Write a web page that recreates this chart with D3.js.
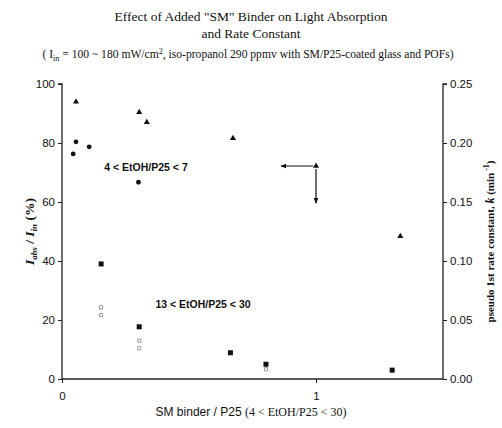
<!DOCTYPE html>
<html><head><meta charset="utf-8">
<script src="https://cdn.jsdelivr.net/npm/d3@7"></script>
<style>body{margin:0;background:#fff}</style>
</head><body>
<svg id="c" width="502" height="428"></svg>
<script>
// data
const circleX = [0.044, 0.055, 0.107, 0.301];
const circleY = [76.3, 80.4, 78.7, 66.7];            // Iabs/Iin %
const squareX = [0.154, 0.304, 0.663, 0.803, 1.30];
const squareY = [39.0, 17.7, 8.9, 5.0, 3.0];         // Iabs/Iin %
const openSqX = [0.154, 0.154, 0.304, 0.304, 0.803];
const openSqY = [24.3, 21.7, 13.0, 10.4, 3.3];       // Iabs/Iin %
const triX = [0.055, 0.304, 0.334, 0.673, 1.0, 1.332];
const triK = [0.235, 0.226, 0.2175, 0.204, 0.1805, 0.121]; // k (1/min)
const leftTicks = [0, 20, 40, 60, 80, 100];
const rightTicks = [0, 0.05, 0.10, 0.15, 0.20, 0.25];
const xTicks = [0, 1];

const svg = d3.select("#c");
const L = 62, R = 443, T = 84, B = 379;
const x = d3.scaleLinear().domain([0, 1.5]).range([L, R]);
const yL = d3.scaleLinear().domain([0, 100]).range([B, T]);
const yR = d3.scaleLinear().domain([0, 0.25]).range([B, T]);

const serif = "'Liberation Serif', 'Times New Roman', serif";
const sans = "'Liberation Sans', Arial, sans-serif";

// titles
const tg = svg.append("g").attr("font-family", serif).attr("fill", "#111").attr("text-anchor", "middle");
tg.append("text").attr("x", 251).attr("y", 21).attr("font-size", 13.5).text('Effect of Added "SM" Binder on Light Absorption');
tg.append("text").attr("x", 251).attr("y", 38).attr("font-size", 13.5).text("and Rate Constant");
const st = tg.append("text").attr("x", 248).attr("y", 58).attr("font-size", 11.6);
st.append("tspan").text("( I");
st.append("tspan").attr("font-size", 8).attr("dy", 3).text("in");
st.append("tspan").attr("dy", -3).text(" = 100 ~ 180 mW/cm");
st.append("tspan").attr("font-size", 8).attr("dy", -4).text("2");
st.append("tspan").attr("dy", 4).text(", iso-propanol 290 ppmv with SM/P25-coated glass and POFs)");

// axes
const axL = d3.axisLeft(yL).tickValues(leftTicks).tickSize(4).tickFormat(d3.format("d"));
const axR = d3.axisRight(yR).tickValues(rightTicks).tickSize(4).tickFormat(d3.format(".2f"));
const axB = d3.axisBottom(x).tickValues(xTicks).tickSize(4).tickFormat(d3.format("d"));
function style(g) {
  g.selectAll("path").attr("stroke", "#222").attr("stroke-width", 1.3);
  g.selectAll("line").attr("stroke", "#222").attr("stroke-width", 1);
  g.selectAll("text").attr("font-family", sans).attr("font-size", 11.5).attr("fill", "#111");
}
svg.append("g").attr("transform", `translate(${L},0)`).call(axL).call(style)
  .call(g => g.select(".domain").attr("d", `M-4,${T}H0V${B}`));
svg.append("g").attr("transform", `translate(${R},0)`).call(axR).call(style)
  .call(g => g.select(".domain").attr("d", `M4,${T}H0V${B}`));
svg.append("g").attr("transform", `translate(0,${B})`).call(axB).call(style)
  .call(g => g.select(".domain").attr("d", `M${L},0H${R}`))
  .call(g => g.selectAll("text").attr("dy", "1.25em"));

// points
svg.append("g").selectAll("circle").data(circleX).join("circle")
  .attr("cx", d => x(d)).attr("cy", (d, i) => yL(circleY[i])).attr("r", 2.4).attr("fill", "#111");
svg.append("g").selectAll("rect").data(squareX).join("rect")
  .attr("x", d => x(d) - 2.5).attr("y", (d, i) => yL(squareY[i]) - 2.5)
  .attr("width", 5).attr("height", 5).attr("fill", "#111");
svg.append("g").selectAll("rect").data(openSqX).join("rect")
  .attr("x", d => x(d) - 1.6).attr("y", (d, i) => yL(openSqY[i]) - 1.6)
  .attr("width", 3.2).attr("height", 3.2).attr("fill", "none")
  .attr("stroke", "#555").attr("stroke-width", 0.9).attr("stroke-dasharray", "1,0.6");
const tri = d3.symbol().type(d3.symbolTriangle).size(16);
svg.append("g").selectAll("path").data(triX).join("path")
  .attr("d", tri).attr("fill", "#111")
  .attr("transform", (d, i) => `translate(${x(d)},${yR(triK[i])})`);

// arrows from the k=1 triangle
svg.append("defs").append("marker").attr("id", "ah").attr("viewBox", "0 0 10 10")
  .attr("refX", 9).attr("refY", 5).attr("markerWidth", 5).attr("markerHeight", 5).attr("orient", "auto")
  .append("path").attr("d", "M0,1L10,5L0,9z").attr("fill", "#111");
const ax0 = x(triX[4]), ay0 = yR(triK[4]);
svg.append("line").attr("x1", ax0 - 3).attr("y1", ay0).attr("x2", x(0.862)).attr("y2", ay0)
  .attr("stroke", "#111").attr("stroke-width", 1.2).attr("marker-end", "url(#ah)");
svg.append("line").attr("x1", ax0).attr("y1", ay0 + 3).attr("x2", ax0).attr("y2", yR(0.149))
  .attr("stroke", "#111").attr("stroke-width", 1.2).attr("marker-end", "url(#ah)");

// annotations
svg.append("text").attr("x", 146).attr("y", 171).attr("text-anchor", "middle")
  .attr("font-family", sans).attr("font-size", 10.5).attr("font-weight", "bold").attr("fill", "#111")
  .text("4 < EtOH/P25 < 7");
svg.append("text").attr("x", 203).attr("y", 308).attr("text-anchor", "middle")
  .attr("font-family", sans).attr("font-size", 10.5).attr("font-weight", "bold").attr("fill", "#111")
  .text("13 < EtOH/P25 < 30");

// x label
const xl = svg.append("text").attr("x", 251).attr("y", 416).attr("text-anchor", "middle").attr("fill", "#111");
xl.append("tspan").attr("font-family", sans).attr("font-size", 12).text("SM binder / P25 ");
xl.append("tspan").attr("font-family", serif).attr("font-size", 12).text("(4 < EtOH/P25 < 30)");

// left y label
const yl = svg.append("text").attr("transform", `translate(34,${(T + B) / 2}) rotate(-90)`)
  .attr("text-anchor", "middle").attr("font-family", serif).attr("font-size", 13.5)
  .attr("font-weight", "bold").attr("fill", "#111");
yl.append("tspan").attr("font-style", "italic").text("I");
yl.append("tspan").attr("font-style", "italic").attr("font-size", 9).attr("dy", 3).text("abs");
yl.append("tspan").attr("dy", -3).text(" / ");
yl.append("tspan").attr("font-style", "italic").text("I");
yl.append("tspan").attr("font-style", "italic").attr("font-size", 9).attr("dy", 3).text("in");
yl.append("tspan").attr("dy", -3).text(" (%)");

// right y label
const yr = svg.append("text").attr("transform", `translate(494,${(T + B) / 2 + 10}) rotate(-90)`)
  .attr("text-anchor", "middle").attr("font-family", serif).attr("font-size", 11)
  .attr("font-weight", "bold").attr("fill", "#111");
yr.append("tspan").text("pseudo 1st rate constant,    ");
yr.append("tspan").attr("font-style", "italic").attr("font-size", 12).text("k");
yr.append("tspan").text(" (min");
yr.append("tspan").attr("font-size", 8).attr("dy", -5).text(" -1");
yr.append("tspan").attr("dy", 5).text(")");
</script>
</body></html>
